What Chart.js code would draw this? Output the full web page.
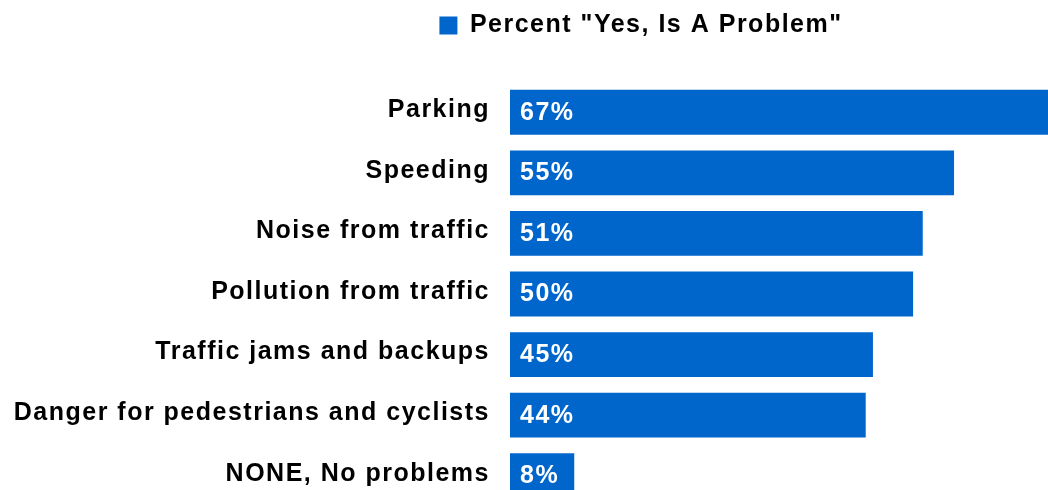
<!DOCTYPE html>
<html><head><meta charset="utf-8">
<script src="https://cdn.jsdelivr.net/npm/chart.js@4/dist/chart.umd.min.js"></script>
<style>html,body{margin:0;padding:0;overflow:hidden;background:#fff}</style>
</head><body>
<canvas id="c" width="1048" height="510"></canvas>
<script>
const categories = ["Parking","Speeding","Noise from traffic","Pollution from traffic","Traffic jams and backups","Danger for pedestrians and cyclists","NONE, No problems"];
const seriesName = 'Percent "Yes, Is A Problem"';
const values = [67, 55.3, 51.4, 50.2, 45.2, 44.3, 8];
const valueLabels = ["67%","55%","51%","50%","45%","44%","8%"];

const FONT = '"Liberation Sans", Arial, Helvetica, sans-serif';
const FSIZE = 25;
const LS = '1.5px';
const LEGEND_SHIFT = 117;

const spacing = {
  id: 'spacing',
  beforeUpdate(c){ c.ctx.letterSpacing = LS; },
  beforeLayout(c){ c.ctx.letterSpacing = LS; },
  afterLayout(c){
    if (c.legend) { c.legend.left += LEGEND_SHIFT; c.legend.right += LEGEND_SHIFT; }
  },
  beforeDraw(c){ c.ctx.letterSpacing = LS; }
};

const barLabels = {
  id: 'barLabels',
  afterDatasetsDraw(c){
    const ctx = c.ctx;
    const meta = c.getDatasetMeta(0);
    ctx.save();
    ctx.font = 'bold ' + FSIZE + 'px ' + FONT;
    ctx.fillStyle = '#ffffff';
    ctx.textAlign = 'left';
    ctx.textBaseline = 'middle';
    ctx.letterSpacing = LS;
    meta.data.forEach((bar, i) => {
      ctx.fillText(valueLabels[i], bar.base + 10, bar.y + 0.5);
    });
    ctx.restore();
  }
};

new Chart(document.getElementById('c'), {
  type: 'bar',
  data: {
    labels: categories,
    datasets: [{
      label: seriesName,
      data: values,
      backgroundColor: '#0066CC',
      borderWidth: 0,
      categoryPercentage: 1,
      barPercentage: 0.74
    }]
  },
  options: {
    indexAxis: 'y',
    responsive: false,
    animation: false,
    devicePixelRatio: 1,
    layout: { padding: { left: 0, right: 0, top: 3, bottom: 4 } },
    plugins: {
      legend: {
        display: true, position: 'top', align: 'center',
        labels: { boxWidth: 18, boxHeight: 18, padding: 10, color: '#000',
          font: { family: FONT, size: FSIZE, weight: 'bold' } }
      },
      tooltip: { enabled: false }
    },
    scales: {
      x: {
        position: 'top', min: 0, max: 67,
        ticks: { display: false },
        grid: { display: false, drawTicks: false },
        border: { display: false },
        afterFit(s){ s.height = 34; s.paddingLeft = 0; s.paddingRight = 0; }
      },
      y: {
        ticks: { color: '#000', font: { family: FONT, size: FSIZE, weight: 'bold' },
          padding: 20, labelOffset: -2, autoSkip: false },
        grid: { display: false, drawTicks: false },
        border: { display: false },
        afterFit(s){ s.width = 510; s.paddingTop = 0; s.paddingBottom = 0; }
      }
    }
  },
  plugins: [spacing, barLabels]
});
</script>
</body></html>
